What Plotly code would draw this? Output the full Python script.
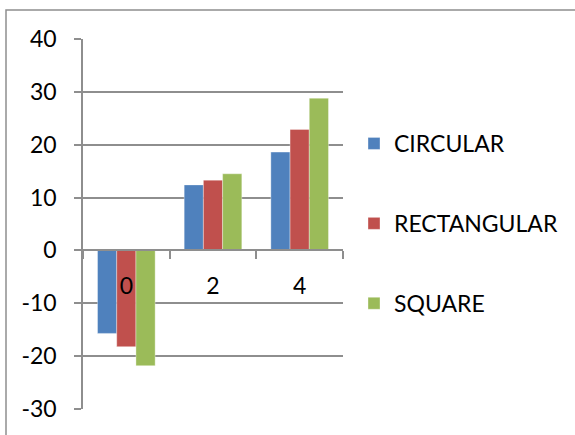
import plotly.graph_objects as go

# Category labels and series values
categories = ["0", "2", "4"]
circular = [-15.7, 12.4, 18.6]
rectangular = [-18.2, 13.3, 22.9]
square = [-21.8, 14.5, 28.8]

series_names = ["CIRCULAR", "RECTANGULAR", "SQUARE"]
series_values = [circular, rectangular, square]
series_colors = ["#4F81BD", "#C0504D", "#9BBB59"]

y_ticks = [-30, -20, -10, 0, 10, 20, 30, 40]
y_tick_text = [str(v) for v in y_ticks]  # plain hyphen for negatives

GRID = "#8e8e8e"
FONT = dict(family="Lato, 'Liberation Sans', sans-serif", size=23, color="#000000")

fig = go.Figure()
for name, vals, color in zip(series_names, series_values, series_colors):
    fig.add_trace(go.Bar(
        x=categories, y=vals, name=name, legendgroup=name,
        marker=dict(color=color, line=dict(color="rgba(255,255,255,0.35)", width=1)),
    ))

W, H = 575, 435
L, R, T, B = 83, 232, 39, 26
plot_h = H - T - B
plot_w = W - L - R

def px_to_paper_x(px):
    return (px - L) / plot_w

def px_to_paper_y(py):
    return (H - B - py) / plot_h

fig.update_layout(
    width=W, height=H,
    margin=dict(l=L, r=R, t=T, b=B, pad=0),
    paper_bgcolor="white", plot_bgcolor="white",
    font=FONT,
    barmode="group", bargap=0.335, bargroupgap=0,
    showlegend=True,
    legend=dict(
        xref="container", yref="container",
        x=354 / W, y=1 - 122 / H, xanchor="left", yanchor="top",
        font=FONT, tracegroupgap=47,
        bgcolor="rgba(0,0,0,0)", itemclick=False,
    ),
    xaxis=dict(
        type="category", categoryorder="array", categoryarray=categories,
        range=[-0.5, 2.5],
        anchor="free", position=30 / 70,
        showline=True, linecolor=GRID, linewidth=1.5,
        ticks="outside", tickson="boundaries", ticklen=8,
        tickcolor=GRID, tickwidth=1.5,
        showgrid=False, zeroline=False,
        ticklabelstandoff=15,
        tickfont=FONT,
    ),
    yaxis=dict(
        range=[-30, 40], tickmode="array", tickvals=y_ticks, ticktext=y_tick_text,
        showgrid=True, gridcolor=GRID, gridwidth=1.5,
        showline=True, linecolor=GRID, linewidth=1.5,
        ticks="outside", ticklen=7, tickcolor=GRID, tickwidth=1.5,
        zeroline=False,
        ticklabelstandoff=13,
        tickfont=FONT,
    ),
    shapes=[dict(
        type="rect", xref="paper", yref="paper",
        x0=px_to_paper_x(6), x1=px_to_paper_x(W + 10),
        y0=px_to_paper_y(H + 10), y1=px_to_paper_y(10),
        line=dict(color=GRID, width=1.5), fillcolor="rgba(0,0,0,0)",
        layer="below",
    )],
)

fig.write_html("out.html")
